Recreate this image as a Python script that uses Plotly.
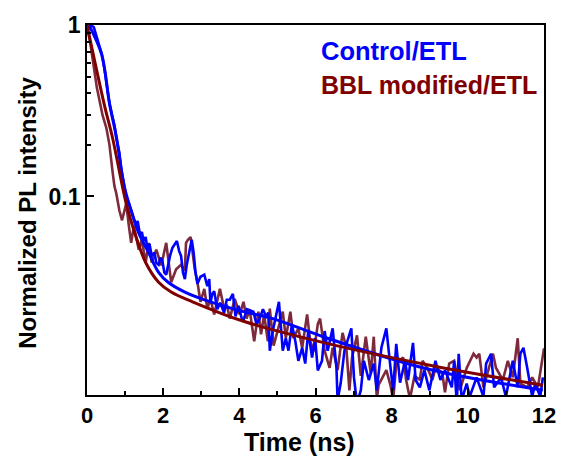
import plotly.graph_objects as go

# ---- Control/ETL measured decay (time ns, normalized intensity) ----
t_control = [0.00, 0.10, 0.18, 0.26, 0.33, 0.39, 0.46, 0.51, 0.59, 0.67, 0.72, 0.77, 0.85, 0.90, 0.97,
             1.03, 1.10, 1.18, 1.23, 1.28, 1.33, 1.39, 1.44, 1.49, 1.54, 1.59, 1.64, 1.70, 1.77, 1.82,
             1.88, 1.93, 1.98, 2.03, 2.08, 2.13, 2.18, 2.24, 2.29, 2.36, 2.42, 2.47, 2.52, 2.57, 2.62,
             2.68, 2.75, 2.80, 2.85, 2.90, 2.98, 3.08, 3.16, 3.21, 3.24, 3.29, 3.34, 3.42, 3.50, 3.60,
             3.67, 3.75, 3.83, 3.90, 3.98, 4.06, 4.11, 4.20, 4.37, 4.45, 4.52, 4.62, 4.70, 4.76, 4.80,
             4.88, 5.01, 5.04, 5.14, 5.22, 5.29, 5.38, 5.47, 5.55, 5.65, 5.73, 5.81, 5.91, 5.99, 6.06,
             6.17, 6.24, 6.32, 6.45, 6.55, 6.58, 6.66, 6.76, 6.94, 7.01, 7.09, 7.19, 7.27, 7.40, 7.53,
             7.61, 7.73, 7.86, 7.97, 8.04, 8.12, 8.22, 8.35, 8.43, 8.56, 8.63, 8.74, 8.86, 8.99, 9.15,
             9.28, 9.40, 9.58, 9.64, 9.71, 9.76, 9.84, 9.97, 10.05, 10.23, 10.41, 10.48, 10.61, 10.69,
             10.87, 11.00, 11.18, 11.31, 11.38, 11.46, 11.56, 11.69, 11.77, 11.90, 11.97]
i_control = [0.93, 1.00, 0.97, 0.85, 0.75, 0.674, 0.55, 0.466, 0.35, 0.29, 0.261, 0.22, 0.18, 0.144, 0.12,
             0.100, 0.091, 0.080, 0.075, 0.068, 0.072, 0.060, 0.062, 0.055, 0.058, 0.049, 0.053, 0.045, 0.047, 0.041,
             0.040, 0.044, 0.042, 0.036, 0.035, 0.040, 0.045, 0.050, 0.052, 0.055, 0.048, 0.045, 0.036, 0.033, 0.040,
             0.048, 0.056, 0.047, 0.036, 0.031, 0.034, 0.035, 0.030, 0.033, 0.024, 0.027, 0.028, 0.022, 0.024, 0.021,
             0.025, 0.025, 0.027, 0.020, 0.023, 0.0195, 0.019, 0.022, 0.0213, 0.018, 0.019, 0.022, 0.020, 0.021, 0.0126,
             0.0165, 0.0234, 0.0243, 0.0126, 0.0149, 0.0126, 0.018, 0.0143, 0.0110, 0.0131, 0.0106, 0.0164, 0.0115, 0.0149, 0.00966,
             0.0110, 0.0164, 0.0126, 0.0170, 0.0100, 0.0065, 0.0081, 0.0126, 0.0170, 0.0088, 0.0062, 0.0074, 0.0110, 0.0085, 0.0106,
             0.0074, 0.0131, 0.0170, 0.0100, 0.0074, 0.0138, 0.0082, 0.0110, 0.0085, 0.0140, 0.0085, 0.0077, 0.0097, 0.0074, 0.0110,
             0.0085, 0.0097, 0.0077, 0.0110, 0.0062, 0.0121, 0.0065, 0.0081, 0.0068, 0.0088, 0.0068, 0.0106, 0.0121, 0.0077,
             0.0088, 0.0068, 0.0110, 0.0077, 0.0121, 0.0131, 0.0100, 0.0068, 0.0081, 0.0068, 0.0088]

# ---- BBL modified/ETL measured decay ----
t_bbl = [0.00, 0.08, 0.26, 0.41, 0.51, 0.59, 0.67, 0.72, 0.77, 0.85, 0.92, 1.03, 1.10, 1.16, 1.23,
         1.36, 1.44, 1.54, 1.62, 1.70, 1.82, 1.95, 2.08, 2.21, 2.34, 2.47, 2.57, 2.60, 2.65, 2.72,
         2.83, 2.90, 2.98, 3.08, 3.16, 3.24, 3.34, 3.42, 3.49, 3.60, 3.67, 3.75, 3.88, 4.01, 4.11,
         4.19, 4.27, 4.39, 4.50, 4.57, 4.65, 4.75, 4.80, 4.90, 5.14, 5.22, 5.34, 5.42, 5.55, 5.65,
         5.78, 5.86, 5.96, 6.06, 6.12, 6.24, 6.37, 6.45, 6.58, 6.71, 6.81, 6.89, 6.96, 7.09, 7.19,
         7.32, 7.45, 7.53, 7.61, 7.66, 7.86, 7.97, 8.04, 8.12, 8.30, 8.38, 8.48, 8.60, 8.74, 8.81,
         8.94, 9.07, 9.15, 9.25, 9.33, 9.40, 9.51, 9.64, 9.79, 9.97, 10.15, 10.23, 10.30, 10.41, 10.56,
         10.66, 10.74, 10.92, 11.05, 11.18, 11.31, 11.38, 11.56, 11.69, 11.84, 11.95, 12.00]
i_bbl = [0.98, 0.80, 0.43, 0.297, 0.25, 0.20, 0.140, 0.115, 0.104, 0.0828, 0.0726, 0.0908, 0.0671, 0.0536, 0.0671,
         0.0489, 0.0558, 0.0412, 0.0536, 0.0412, 0.0489, 0.0396, 0.0536, 0.0316, 0.0376, 0.040, 0.037, 0.0536, 0.0558, 0.058,
         0.0376, 0.0316, 0.0243, 0.0289, 0.0222, 0.0253, 0.0205, 0.0243, 0.0289, 0.0222, 0.0234, 0.0194, 0.0253, 0.0205, 0.0243,
         0.0194, 0.0220, 0.0143, 0.0213, 0.0157, 0.0205, 0.0143, 0.0222, 0.0135, 0.0213, 0.0149, 0.0213, 0.0149, 0.0170, 0.0131,
         0.0205, 0.0143, 0.0125, 0.0180, 0.0194, 0.0126, 0.0100, 0.0131, 0.0097, 0.0160, 0.0131, 0.0074, 0.0115, 0.0155, 0.0090,
         0.0152, 0.0093, 0.0152, 0.0066, 0.0080, 0.0097, 0.0079, 0.0065, 0.0106, 0.0115, 0.0085, 0.0066, 0.0090, 0.0085, 0.0110,
         0.0100, 0.0085, 0.0100, 0.0097, 0.0093, 0.0072, 0.0106, 0.0110, 0.0074, 0.0100, 0.0121, 0.0115, 0.0121, 0.0077, 0.0100,
         0.0121, 0.0100, 0.0085, 0.0110, 0.0088, 0.0149, 0.0081, 0.0077, 0.0088, 0.0077, 0.0110, 0.0130]

# ---- Fitted decay curves ----
t_fit_control = [0.05, 0.385, 0.59, 0.77, 0.98, 1.16, 1.36, 1.62, 1.88, 2.13, 2.57, 3.24, 4.11, 4.88, 6.24, 8.89, 11.97]
i_fit_control = [1.0, 0.674, 0.348, 0.223, 0.1137, 0.0828, 0.0611, 0.0470, 0.0361, 0.0316, 0.0277, 0.0243, 0.0213, 0.0194, 0.0151, 0.00993, 0.00742]
t_fit_bbl = [0.0, 0.46, 0.67, 1.03, 1.28, 1.54, 1.88, 2.21, 2.77, 4.11, 6.24, 9.07, 11.97]
i_fit_bbl = [1.0, 0.339, 0.220, 0.0908, 0.0588, 0.0412, 0.0316, 0.0277, 0.0243, 0.0187, 0.0140, 0.0103, 0.00793]

x_ticks = [0, 2, 4, 6, 8, 10, 12]
y_ticks = [0.1, 1]
y_minor = [0.2, 0.3, 0.4, 0.5, 0.6, 0.7, 0.8, 0.9]

BLUE = "#0000FF"
RED_DATA = "#7D2A3C"
RED_FIT = "#800000"
FONT = "Liberation Sans, Arial, sans-serif"

fig = go.Figure()
fig.add_trace(go.Scatter(x=t_bbl, y=i_bbl, mode="lines", line=dict(color=RED_DATA, width=2.6), showlegend=False))
fig.add_trace(go.Scatter(x=t_control, y=i_control, mode="lines", line=dict(color=BLUE, width=2.6), showlegend=False))
fig.add_trace(go.Scatter(x=t_fit_control, y=i_fit_control, mode="lines", line=dict(color=BLUE, width=3, shape="spline"), showlegend=False))
fig.add_trace(go.Scatter(x=t_fit_bbl, y=i_fit_bbl, mode="lines", line=dict(color=RED_FIT, width=3, shape="spline"), showlegend=False))

L, R, T, B = 87, 14, 18, 64
W, H = 568, 459
fig.update_layout(
    width=W, height=H,
    margin=dict(l=L, r=R, t=T, b=B),
    paper_bgcolor="white", plot_bgcolor="white",
    font=dict(family=FONT, color="black"),
    showlegend=False,
)
fig.update_xaxes(
    range=[0, 12], tickvals=x_ticks, ticks="inside", ticklen=7, tickwidth=1.5, tickcolor="black",
    showline=True, linecolor="black", linewidth=1.8, mirror=True, showgrid=False, zeroline=False,
    tickfont=dict(family=FONT, size=22, weight="bold"),
    minor=dict(dtick=1, ticks="inside", ticklen=4, tickwidth=1.5, tickcolor="black", showgrid=False),
)
fig.update_yaxes(
    type="log", range=[-2.158, 0], tickvals=y_ticks, ticktext=["0.1", "1"], ticks="inside", ticklen=7,
    tickwidth=1.5, tickcolor="black",
    showline=True, linecolor="black", linewidth=1.8, mirror=True, showgrid=False, zeroline=False,
    tickfont=dict(family=FONT, size=23, weight="bold"),
    minor=dict(tickvals=y_minor, ticks="inside", ticklen=4, tickwidth=1.5, tickcolor="black", showgrid=False),
)


def px_to_paper(px, py):
    return (px - L) / (W - L - R), 1 - (py - T) / (H - T - B)


def add_text(text, px, py, size, color="black", xanchor="center", angle=0):
    x, y = px_to_paper(px, py)
    fig.add_annotation(text=text, x=x, y=y, xref="paper", yref="paper", showarrow=False,
                       xanchor=xanchor, yanchor="middle", textangle=angle,
                       font=dict(family=FONT, size=size, weight="bold", color=color))


add_text("Time (ns)", 304, 443, 25)
add_text("Normalized PL intensity", 26, 209, 24, angle=-90)
add_text("Control/ETL", 324, 45, 25.5, color=BLUE, xanchor="left")
add_text("BBL modified/ETL", 324, 79, 25, color=RED_FIT, xanchor="left")

fig.write_html("out.html")
